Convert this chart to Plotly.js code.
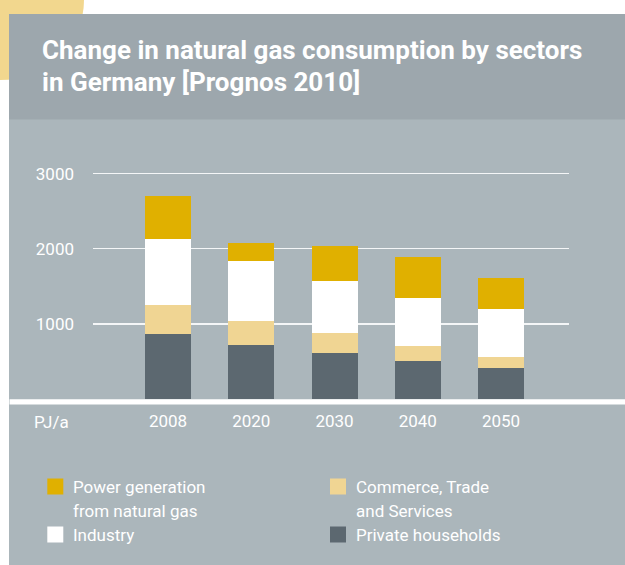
<!DOCTYPE html>
<html>
<head>
<meta charset="utf-8">
<script src="https://cdn.plot.ly/plotly-3.0.1.min.js"></script>
<style>html,body{margin:0;padding:0;background:#fff;}#chart{width:625px;height:565px;}</style>
</head>
<body>
<div id="chart"></div>
<script>
// ---- data (PJ/a) ----
var years = ['2008', '2020', '2030', '2040', '2050'];
var households = [870, 720, 615, 510, 418];
var commerce = [385, 320, 265, 200, 146];
var industry = [878, 800, 693, 640, 638];
var power = [575, 240, 466, 540, 412];
var yTicks = [1000, 2000, 3000];
var seriesNames = ['Private households', 'Commerce, Trade and Services', 'Industry', 'Power generation from natural gas'];
var legendLines = [
  ['Power generation', 'from natural gas'],
  ['Commerce, Trade', 'and Services'],
  ['Industry'],
  ['Private households']
];
var titleLines = ['Change in natural gas consumption by sectors', 'in Germany [Prognos 2010]'];
var unitLabel = 'PJ/a';

// ---- styles ----
var cHouse = '#5c6870', cComm = '#f0d593', cInd = '#ffffff', cPower = '#e0b000';
var legendColors = [cPower, cComm, cInd, cHouse];
var fontFam = 'Roboto, "Liberation Sans", sans-serif';

// plot-area geometry (pixels)
var L = 93, T = 159, W = 476, H = 240;
function xp(px) { return (px - L) / W; }
function yp(py) { return (T + H - py) / H; }

function bar(name, vals, color) {
  return {type: 'bar', name: name, x: years, y: vals,
          marker: {color: color, line: {width: 0}}, hoverinfo: 'skip'};
}
var traces = [
  bar(seriesNames[0], households, cHouse),
  bar(seriesNames[1], commerce, cComm),
  bar(seriesNames[2], industry, cInd),
  bar(seriesNames[3], power, cPower)
];

var shapes = [
  {type: 'circle', layer: 'below', xref: 'paper', yref: 'paper',
   x0: xp(-84), x1: xp(84), y0: yp(80), y1: yp(-80), fillcolor: '#f2d78e', line: {width: 0}},
  {type: 'rect', layer: 'below', xref: 'paper', yref: 'paper',
   x0: xp(9), x1: xp(630), y0: yp(570), y1: yp(14), fillcolor: '#abb6bb', line: {width: 0}},
  {type: 'rect', layer: 'below', xref: 'paper', yref: 'paper',
   x0: xp(9), x1: xp(630), y0: yp(119.5), y1: yp(14), fillcolor: '#9da7ad', line: {width: 0}},
  {type: 'rect', layer: 'above', xref: 'paper', yref: 'paper',
   x0: xp(9.5), x1: xp(630), y0: yp(404.5), y1: yp(399.3), fillcolor: '#ffffff', line: {width: 0}}
];

var annotations = [];
function addText(text, px, pyMid, size, weight) {
  annotations.push({xref: 'paper', yref: 'paper', x: xp(px), y: yp(pyMid),
    xanchor: 'left', yanchor: 'middle', showarrow: false, text: text,
    font: {family: fontFam, size: size, color: '#ffffff', weight: weight || 400}});
}
// title
addText(titleLines[0], 40, 50.3, 26, 700);
addText(titleLines[1], 40, 82.5, 26, 700);
// unit
addText(unitLabel, 32, 422, 17);

// legend (2 columns)
var legCols = [47.3, 330], legRows = [478.5, 526.5];
var lineBase = [[493.3, 516.7], [540.7]];
for (var i = 0; i < 4; i++) {
  var col = i % 2, row = Math.floor(i / 2);
  var sx = legCols[col], sy = legRows[row];
  shapes.push({type: 'rect', layer: 'above', xref: 'paper', yref: 'paper',
    x0: xp(sx), x1: xp(sx + 16), y0: yp(sy + 16), y1: yp(sy),
    fillcolor: legendColors[i], line: {width: 0}});
  for (var k = 0; k < legendLines[i].length; k++) {
    var base = row === 0 ? lineBase[0][k] : lineBase[1][0];
    addText(legendLines[i][k], sx + 24, base - 6, 17);
  }
}

var layout = {
  width: 625, height: 565,
  margin: {l: L, r: 625 - L - W, t: T, b: 565 - T - H, pad: 0},
  paper_bgcolor: '#ffffff', plot_bgcolor: 'rgba(0,0,0,0)',
  barmode: 'stack', bargap: 0.4474, showlegend: false,
  xaxis: {type: 'category', range: [-0.901, 4.817], showgrid: false, zeroline: false,
          showline: false, ticks: '', ticklabelstandoff: 10,
          tickfont: {family: fontFam, size: 17, color: '#ffffff'}},
  yaxis: {range: [0, 3194], tickvals: yTicks, showgrid: true, gridcolor: '#f4f6f7', gridwidth: 1.3,
          zeroline: false, showline: false, ticks: '', ticklabelstandoff: 18,
          tickfont: {family: fontFam, size: 17, color: '#ffffff'}},
  shapes: shapes, annotations: annotations
};

Plotly.newPlot('chart', traces, layout, {staticPlot: true, displayModeBar: false});
</script>
</body>
</html>
